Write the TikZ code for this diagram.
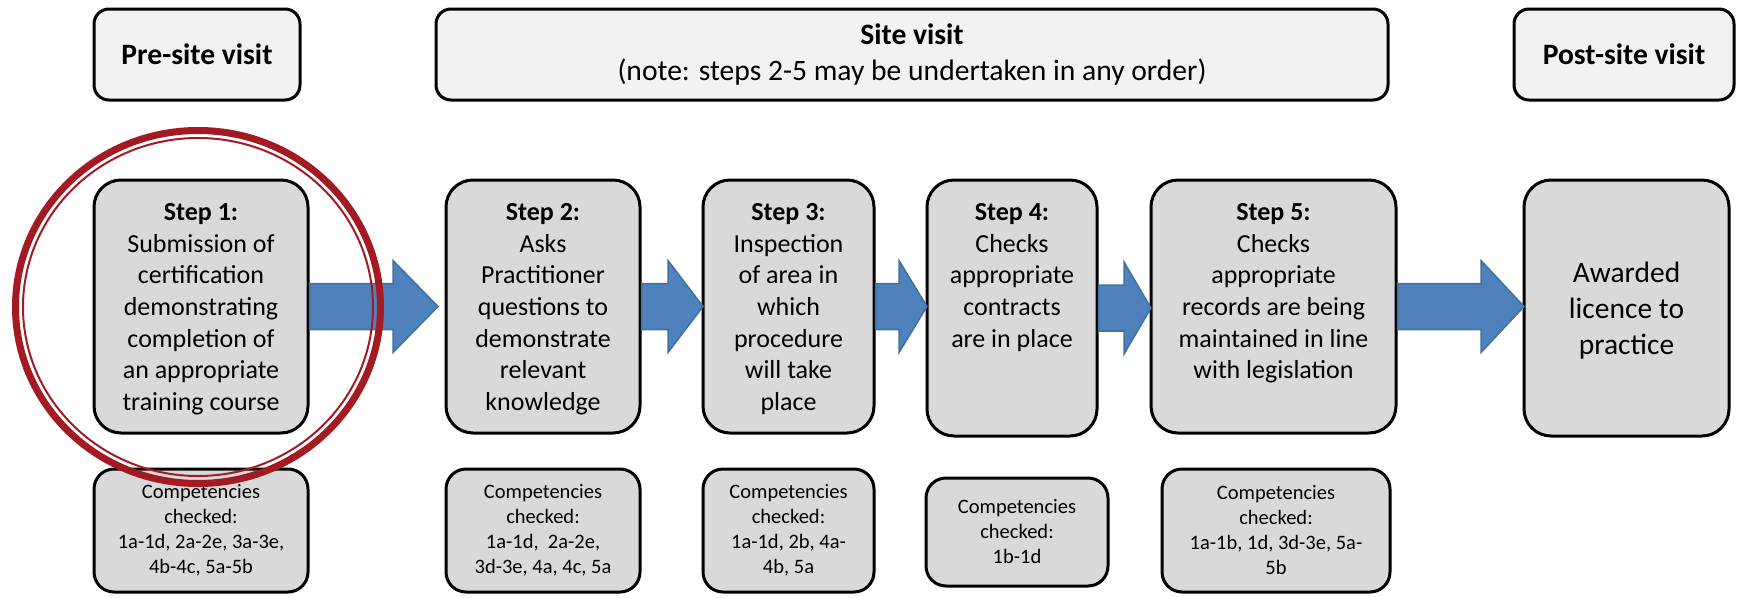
\documentclass[tikz,border=0pt]{standalone}
\usepackage{fontspec}
\setmainfont{Carlito}
\usetikzlibrary{calc}
\definecolor{topfill}{HTML}{F2F2F2}
\definecolor{boxfill}{HTML}{D9D9D9}
\definecolor{arrowfill}{HTML}{4F81BD}
\definecolor{arrowline}{HTML}{41719C}
\definecolor{ringred}{HTML}{A31A22}
% #1 from node, #2 to node, #3 head length, #4 gap before target
\newcommand\blockarrow[4]{%
  \draw[bluearrow] let \p1=(#1.east), \p2=(#2.west) in
    (\x1+1.5pt,\y1+23pt) -- (\x2-#4-#3,\y1+23pt) -- (\x2-#4-#3,\y1+46pt) -- (\x2-#4,\y1)
    -- (\x2-#4-#3,\y1-46pt) -- (\x2-#4-#3,\y1-23pt) -- (\x1+1.5pt,\y1-23pt) -- cycle;}
\begin{document}
\begin{tikzpicture}[x=1pt,y=-1pt,
  topbox/.style={draw=black, line width=3pt, fill=topfill, rounded corners=15pt, inner sep=0pt, outer sep=0pt, anchor=north west, minimum height=91pt},
  stepbox/.style={draw=black, line width=3pt, fill=boxfill, rounded corners=27pt, inner sep=0pt, outer sep=0pt, anchor=north west},
  compbox/.style={draw=black, line width=3pt, fill=boxfill, rounded corners=20pt, inner sep=0pt, outer sep=0pt, anchor=north west},
  toptext/.style={font=\fontsize{29.6}{36}\selectfont, align=center, inner sep=0pt},
  steptext/.style={font=\fontsize{26}{31.7}\selectfont, align=center, inner sep=0pt, anchor=north},
  awardtext/.style={font=\fontsize{29.5}{36}\selectfont, align=center, inner sep=0pt},
  comptext/.style={font=\fontsize{20.5}{25}\selectfont, align=center, inner sep=0pt},
  bluearrow/.style={fill=arrowfill, draw=arrowline, line width=1.5pt, line join=miter},
  ringthick/.style={draw=ringred, line width=7pt},
  ringthin/.style={draw=ringred, line width=2pt}]
\useasboundingbox (0,0) rectangle (1740,597);

% top row
\node[topbox, minimum width=206pt] (pre) at (94,9) {};
\node[topbox, minimum width=952pt] (site) at (436,9) {};
\node[topbox, minimum width=220pt] (post) at (1514,9) {};
\node[toptext] (pret) at (pre.center) {\textbf{Pre-site visit}};
\node[toptext] (sitet) at (site.center) {\textbf{Site visit}\\(note: steps 2-5 may be undertaken in any order)};
\node[toptext] (postt) at (post.center) {\textbf{Post-site visit}};

% step row
\node[stepbox, minimum width=214pt, minimum height=253pt] (s1) at (94,180) {};
\node[stepbox, minimum width=194pt, minimum height=253pt] (s2) at (446,180) {};
\node[stepbox, minimum width=171pt, minimum height=253pt] (s3) at (703,180) {};
\node[stepbox, minimum width=170pt, minimum height=256pt] (s4) at (927,180) {};
\node[stepbox, minimum width=245pt, minimum height=253pt] (s5) at (1151,180) {};
\node[stepbox, minimum width=205pt, minimum height=256pt] (aw) at (1524,180) {};

\node[steptext] (s1t) at ([yshift=-18pt]s1.north) {\strut\textbf{Step 1:}\\Submission of\\certification\\demonstrating\\completion of\\an appropriate\\training course};
\node[steptext] (s2t) at ([yshift=-18pt]s2.north) {\strut\textbf{Step 2:}\\Asks\\Practitioner\\questions to\\demonstrate\\relevant\\knowledge};
\node[steptext] (s3t) at ([yshift=-18pt]s3.north) {\strut\textbf{Step 3:}\\Inspection\\of area in\\which\\procedure\\will take\\place};
\node[steptext] (s4t) at ([yshift=-18pt]s4.north) {\strut\textbf{Step 4:}\\Checks\\appropriate\\contracts\\are in place};
\node[steptext] (s5t) at ([yshift=-18pt]s5.north) {\strut\textbf{Step 5:}\\Checks\\appropriate\\records are being\\maintained in line\\with legislation};
\node[awardtext] (awt) at ([yshift=-3pt]aw.center) {Awarded\\licence to\\practice};

% competencies row
\node[compbox, minimum width=214pt, minimum height=123pt] (c1) at (94,469) {};
\node[compbox, minimum width=194pt, minimum height=123pt] (c2) at (446,469) {};
\node[compbox, minimum width=171pt, minimum height=123pt] (c3) at (703,469) {};
\node[compbox, minimum width=182pt, minimum height=108pt] (c4) at (926,478) {};
\node[compbox, minimum width=228pt, minimum height=123pt] (c5) at (1162,469) {};
\node[comptext] (c1t) at (c1.center) {Competencies\\checked:\\1a-1d, 2a-2e, 3a-3e,\\4b-4c, 5a-5b};
\node[comptext] (c2t) at (c2.center) {Competencies\\checked:\\1a-1d,~ 2a-2e,\\3d-3e, 4a, 4c, 5a};
\node[comptext] (c3t) at (c3.center) {Competencies\\checked:\\1a-1d, 2b, 4a-\\4b, 5a};
\node[comptext] (c4t) at (c4.center) {Competencies\\checked:\\1b-1d};
\node[comptext] (c5t) at (c5.center) {Competencies\\checked:\\1a-1b, 1d, 3d-3e, 5a-\\5b};

% block arrows
\blockarrow{s1}{s2}{45pt}{8pt}
\blockarrow{s2}{s3}{35pt}{0pt}
\blockarrow{s3}{s4}{28pt}{0pt}
\blockarrow{s4}{s5}{27pt}{0pt}
\blockarrow{s5}{aw}{43pt}{0pt}

% red double ring
\draw[ringthick] (198,307) ellipse [x radius=182.5pt, y radius=176.5pt];
\draw[ringthin] (198,307) ellipse [x radius=175pt, y radius=169pt];
\end{tikzpicture}
\end{document}
